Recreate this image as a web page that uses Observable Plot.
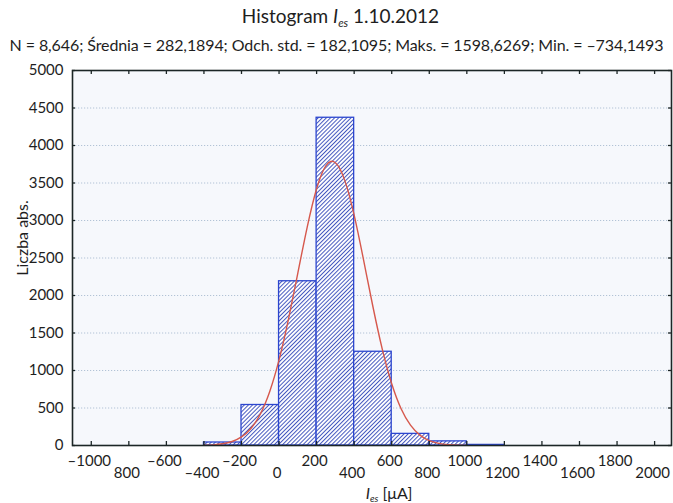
<!DOCTYPE html>
<html><head><meta charset="utf-8">
<script src="https://cdn.jsdelivr.net/npm/d3@7"></script>
<script src="https://cdn.jsdelivr.net/npm/@observablehq/plot@0.6"></script>
<style>
body{margin:0;background:#fff;font-family:Lato,"Open Sans",sans-serif;color:#1e1e1e;width:673px;overflow:hidden}
#title{height:30px;line-height:32px;text-align:center;font-size:19px;padding-left:8px;white-space:nowrap}
#subtitle{height:28px;line-height:29px;text-align:center;font-size:16px;white-space:nowrap;letter-spacing:-0.1px}
#caption{height:21px;line-height:21px;text-align:center;font-size:16px;padding-left:105px;white-space:nowrap}
sub{font-size:0.6em;vertical-align:-0.35em;font-style:italic;line-height:0}
#chart svg{display:block}
</style></head><body>
<div id="title">Histogram <i>I</i><sub>es</sub> 1.10.2012</div>
<div id="subtitle">N = 8,646; Średnia = 282,1894; Odch. std. = 182,1095; Maks. = 1598,6269; Min. = –734,1493</div>
<div id="chart"></div>
<div id="caption"><i>I</i><sub>es</sub> [μA]</div>
<script>
// Histogram bins (µA) and counts
const binStart = [-400, -200, 0, 200, 400, 600, 800, 1000];
const binEnd   = [-200, 0, 200, 400, 600, 800, 1000, 1200];
const counts   = [40, 540, 2190, 4370, 1250, 155, 55, 8];

// Fitted normal curve
const curveX = [-400,-350,-300,-250,-200,-150,-100,-50,0,50,100,150,200,250,300,350,400,450,500,550,600,650,700,750,800,850,900,950,1000];
const curveY = [3,9,23,53,114,227,419,718,1141,1682,2299,2913,3424,3732,3771,3535,3071,2475,1850,1282,824,491,271,139,66,29,12,5,2];

// Axes
const xTicks = [-1000,-800,-600,-400,-200,0,200,400,600,800,1000,1200,1400,1600,1800,2000];
const xTickLabels = ["–1000","800","–600","–400","–200","0","200","400","600","800","1000","1200","1400","1600","1800","2000"];
const yTicks = [0,500,1000,1500,2000,2500,3000,3500,4000,4500,5000];

const W = 673, H = 424, MT = 12, MB = 37, ML = 72, MR = 2;
const plotH = H - MT - MB, plotW = W - ML - MR;
const bins = counts.map((c, i) => ({x1: binStart[i], x2: binEnd[i], y: c}));
const curve = curveX.map((x, i) => ({x, y: curveY[i]}));
const labelOf = new Map(xTicks.map((t, i) => [t, xTickLabels[i]]));
const evenTicks = xTicks.filter((t, i) => i % 2 === 0);
const oddTicks = xTicks.filter((t, i) => i % 2 === 1);

const plot = Plot.plot({
  width: W, height: H,
  marginTop: MT, marginBottom: MB, marginLeft: ML, marginRight: MR,
  style: {fontFamily: "Lato, 'Open Sans', sans-serif", fontSize: "15px", color: "#1e1e1e", background: "#fff"},
  x: {domain: [-1100, 2090], axis: null},
  y: {domain: [0, 5000], axis: null},
  marks: [
    Plot.frame({fill: "#f6f8fc", stroke: null}),
    Plot.gridY(yTicks.slice(1, -1), {stroke: "#8ea6c2", strokeOpacity: 0.65, strokeDasharray: "1.2,1.8", strokeWidth: 1}),
    Plot.rectY(bins, {x1: "x1", x2: "x2", y1: 0, y2: "y", fill: "url(#hatch)", stroke: "#2c46cf", strokeWidth: 1.3}),
    Plot.line(curve, {x: "x", y: "y", stroke: "#d6584c", strokeWidth: 1.4, curve: "natural"}),
    Plot.tickX(xTicks, {x: d => d, insetTop: plotH - 4, stroke: "#1c2626", strokeWidth: 1.3}),
    Plot.tickX(xTicks, {x: d => d, insetBottom: plotH - 4, stroke: "#1c2626", strokeWidth: 1.3}),
    Plot.tickY(yTicks, {y: d => d, insetRight: plotW - 3, stroke: "#1c2626", strokeWidth: 1.3}),
    Plot.tickY(yTicks, {y: d => d, insetLeft: plotW - 3, stroke: "#1c2626", strokeWidth: 1.3}),
    Plot.frame({stroke: "#1c2626", strokeWidth: 1.6}),
    Plot.axisY(yTicks, {tickSize: 0, tickPadding: 9, fontSize: 15, label: null, tickFormat: d => String(d)}),
    Plot.axisX(evenTicks, {tickSize: 0, tickPadding: 10, dx: -2, fontSize: 15, label: null, tickFormat: d => labelOf.get(d)}),
    Plot.axisX(oddTicks, {tickSize: 0, tickPadding: 22, dx: -2, fontSize: 15, label: null, tickFormat: d => labelOf.get(d)}),
    Plot.text(["Liczba abs."], {text: d => d, frameAnchor: "left", textAnchor: "middle", dx: -50, dy: -20, rotate: -90, fontSize: 16, fill: "#1e1e1e"})
  ]
});

const svg = d3.select(plot);
const defs = svg.insert("defs", ":first-child");
const s = 2.9;
const pat = defs.append("pattern").attr("id", "hatch").attr("patternUnits", "userSpaceOnUse")
  .attr("width", s).attr("height", s).attr("patternTransform", "rotate(45)");
pat.append("rect").attr("width", s).attr("height", s).attr("fill", "#ffffff");
pat.append("line").attr("x1", 0.5).attr("y1", 0).attr("x2", 0.5).attr("y2", s)
  .attr("stroke", "#4458bf").attr("stroke-width", 1);
document.getElementById("chart").appendChild(plot);
</script>
</body></html>
